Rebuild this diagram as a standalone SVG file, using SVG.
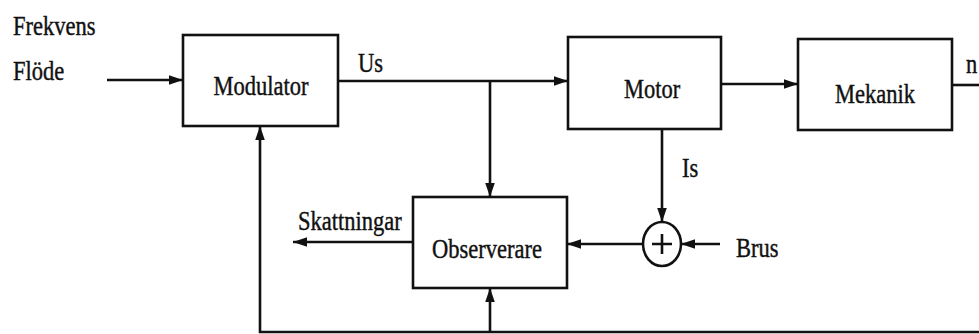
<svg xmlns="http://www.w3.org/2000/svg" width="979" height="334" viewBox="0 0 979 334">
<style>
.box{fill:none;stroke:#111;stroke-width:2.6}
.ln{fill:none;stroke:#111;stroke-width:2.6}
.t{font-family:"Liberation Serif","Times New Roman",serif;font-size:22.5px;fill:#111;stroke:#111;stroke-width:0.35}
.c{text-anchor:middle}
</style>
<defs>
<marker id="ah" markerUnits="userSpaceOnUse" markerWidth="15" markerHeight="12" refX="14" refY="6" orient="auto">
<path d="M0,1.2 L14,6 L0,10.8 z" fill="#111"/>
</marker>
</defs>
<rect width="979" height="334" fill="#fff"/>
<g id="connectors">
<path class="ln" d="M107,80 H183" marker-end="url(#ah)"/>
<path class="ln" d="M338,81 H568" marker-end="url(#ah)"/>
<path class="ln" d="M490,81 V197" marker-end="url(#ah)"/>
<path class="ln" d="M721,84 H798" marker-end="url(#ah)"/>
<path class="ln" d="M952,85 H979"/>
<path class="ln" d="M662,130 V222" marker-end="url(#ah)"/>
<path class="ln" d="M720,244 H681" marker-end="url(#ah)"/>
<path class="ln" d="M643,244 H567" marker-end="url(#ah)"/>
<path class="ln" d="M413,242 H293" marker-end="url(#ah)"/>
<path class="ln" d="M979,332 H260 V126" marker-end="url(#ah)"/>
<path class="ln" d="M490,332 V288" marker-end="url(#ah)"/>
</g>
<g id="labels">
<text class="t" transform="translate(13,35) scale(1,1.2)">Frekvens</text>
<text class="t" transform="translate(13,80) scale(1,1.2)">Flöde</text>
<text class="t" transform="translate(358,72) scale(1,1.2)">Us</text>
<text class="t" transform="translate(966,73) scale(1,1.2)">n</text>
<text class="t" transform="translate(682,177) scale(1,1.2)">Is</text>
<text class="t" transform="translate(298,230) scale(1,1.2)">Skattningar</text>
<text class="t" transform="translate(736,257) scale(1,1.2)">Brus</text>
</g>
<g id="modulator">
<rect class="box" x="183" y="35" width="155" height="91"/>
<text class="t c" transform="translate(261,95) scale(1,1.2)">Modulator</text>
</g>
<g id="motor">
<rect class="box" x="568" y="37" width="153" height="92"/>
<text class="t c" transform="translate(652,98) scale(1,1.2)">Motor</text>
</g>
<g id="mekanik">
<rect class="box" x="798" y="39" width="154" height="91"/>
<text class="t c" transform="translate(875,103) scale(1,1.2)">Mekanik</text>
</g>
<g id="observerare">
<rect class="box" x="413" y="197" width="154" height="91"/>
<text class="t c" transform="translate(487,258) scale(1,1.2)">Observerare</text>
</g>
<g id="summation">
<ellipse cx="662" cy="244" rx="19" ry="22" fill="#fff" stroke="#111" stroke-width="2.6"/>
<path class="ln" d="M652,244 H672 M662,234 V254" stroke-width="2"/>
</g>
</svg>
